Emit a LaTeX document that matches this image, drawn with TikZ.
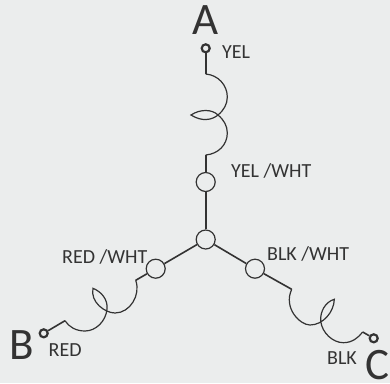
\documentclass[tikz,border=0pt]{standalone}
\usepackage{fontspec}
\setmainfont{Carlito}
\definecolor{bg}{HTML}{EBEDED}
\definecolor{ink}{HTML}{333333}
\tikzset{
  wire/.style={draw=ink,line width=1.6pt},
  coil/.style={draw=ink,line width=1.2pt},
  ring/.style={circle,draw=ink,line width=1.2pt,fill=bg,minimum size=19pt,inner sep=0pt},
  term/.style={circle,draw=ink,line width=2.2pt,fill=bg,minimum size=8pt,inner sep=0pt},
  lab/.style={text=ink,font=\fontsize{20}{20}\selectfont,inner sep=0pt},
  big/.style={text=ink,font=\fontsize{45}{45}\selectfont,inner sep=0pt}
}
\begin{document}
\begin{tikzpicture}[x=1pt,y=-1pt]
\useasboundingbox[fill=bg] (0,0) rectangle (390,383);
\node[ring] (n) at (205.7,239.5) {};
\node[ring] (ra) at (205.7,182) {};
\node[ring] (rb) at (155.7,268.7) {};
\node[ring] (rc) at (255,268.7) {};
\node[term] (ta) at (205.7,48.3) {};
\node[term] (tb) at (43.7,333.3) {};
\node[term] (tc) at (373.7,338.3) {};
\coordinate (a1) at (205.7,74);
\coordinate (a2) at (205.7,155);
\coordinate (b1) at (135.7,280.3);
\coordinate (b2) at (65,320.7);
\coordinate (c1) at (291.7,289.3);
\coordinate (c2) at (362.7,332);
\draw[wire] (n) -- (ra);
\draw[wire] (n) -- (rb);
\draw[wire] (n) -- (rc);
\draw[wire] (ta) -- (a1);
\draw[wire] (ra) -- (a2);
\draw[wire] (rb) -- (b1);
\draw[wire] (tb) -- (b2);
\draw[wire] (rc) -- (c1);
\draw[wire] (tc) -- (c2);
% coil A
\draw[coil] (a1) .. controls (218,75) and (227.3,85) .. (227.3,97)
  .. controls (227.3,104) and (224,110) .. (218,115)
  .. controls (212,120) and (202,122) .. (191,115)
  .. controls (200,109) and (212,109) .. (218,115)
  .. controls (224,120) and (227.3,126) .. (227.3,133)
  .. controls (227.3,145) and (218,154) .. (a2);
% coil B
\draw[coil] (b1) .. controls (141,295) and (130,313) .. (115,313)
  .. controls (105,313) and (90,302) .. (93,288.3)
  .. controls (102,292) and (108,300) .. (107,309)
  .. controls (106,321) and (96,331) .. (85,331)
  .. controls (76,331) and (69,327) .. (b2);
% coil C
\draw[coil] (c1) .. controls (283,308) and (300,325) .. (310,325)
  .. controls (323,325) and (334,312) .. (334.3,299.3)
  .. controls (325,302) and (320,312) .. (320.7,321)
  .. controls (322,333) and (333,342.7) .. (343.3,342.7)
  .. controls (352,342.7) and (358,338) .. (c2);
\node[big,anchor=center] (la) at (205.5,20.5) {A};
\node[big,anchor=center] (lb) at (22,345) {B};
\node[big,anchor=base] (lc) at (377,379) {C};
\node[lab,anchor=base west] (l1) at (222,58.5) {YEL};
\node[lab,anchor=base west] (l2) at (231,177) {YEL /WHT};
\node[lab,anchor=base west] (l3) at (62,263) {RED /WHT};
\node[lab,anchor=base west] (l4) at (267,260) {BLK /WHT};
\node[lab,anchor=base west] (l5) at (48.5,356.5) {RED};
\node[lab,anchor=base west] (l6) at (327,364) {BLK};
\end{tikzpicture}
\end{document}
